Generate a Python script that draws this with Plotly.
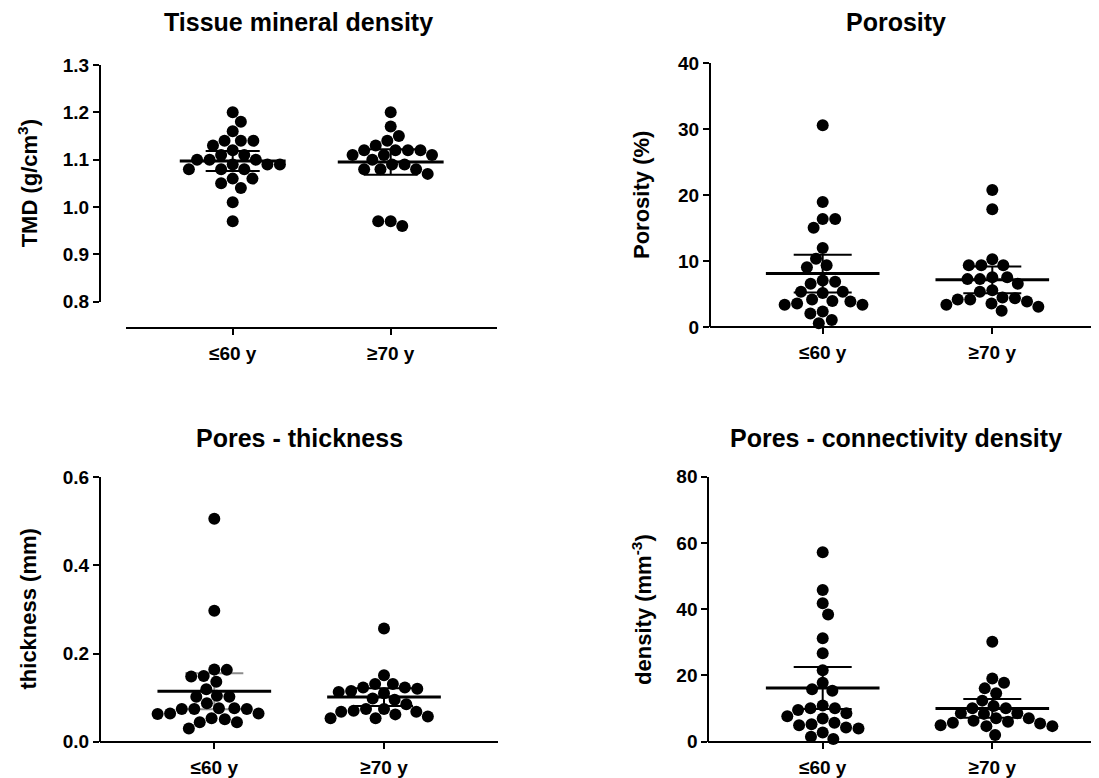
import numpy as np
import plotly.graph_objects as go

# ---------------- data ----------------
groups = ["≤60 y", "≥70 y"]

tmd_le60 = [1.20, 1.18, 1.16, 1.14, 1.14, 1.14, 1.13, 1.12, 1.11, 1.11, 1.10, 1.10, 1.10,
            1.09, 1.09, 1.09, 1.08, 1.08, 1.08, 1.06, 1.06, 1.05, 1.04, 1.01, 0.97]
tmd_ge70 = [1.20, 1.17, 1.15, 1.14, 1.13, 1.12, 1.12, 1.12, 1.12, 1.11, 1.11, 1.11, 1.10,
            1.09, 1.09, 1.08, 1.08, 1.08, 1.07, 0.97, 0.97, 0.96]

por_le60 = [30.6, 19.0, 16.4, 16.4, 15.1, 12.0, 10.4, 9.4, 9.1, 7.1, 6.9, 6.6, 5.4, 5.4, 5.2,
            4.2, 4.0, 3.9, 3.6, 3.4, 3.4, 2.4, 2.1, 1.1, 0.6]
por_ge70 = [20.8, 17.9, 10.3, 9.4, 9.4, 9.4, 7.6, 7.6, 7.3, 7.3, 6.6, 5.6, 5.4, 4.5, 4.4,
            4.2, 4.2, 3.9, 3.6, 3.4, 3.1, 2.5]

thk_le60 = [0.506, 0.297, 0.164, 0.163, 0.149, 0.148, 0.136, 0.119, 0.104, 0.102, 0.102,
            0.087, 0.076, 0.076, 0.074, 0.074, 0.074, 0.064, 0.064, 0.063, 0.053, 0.051,
            0.044, 0.044, 0.030]
thk_ge70 = [0.257, 0.151, 0.131, 0.131, 0.123, 0.123, 0.120, 0.115, 0.113, 0.110, 0.098,
            0.095, 0.085, 0.074, 0.074, 0.070, 0.068, 0.068, 0.062, 0.057, 0.053, 0.053]

den_le60 = [57.2, 45.8, 41.8, 38.4, 31.2, 26.7, 21.6, 17.8, 15.8, 15.4, 10.9, 10.1, 10.1,
            9.6, 8.6, 7.7, 7.0, 5.7, 5.3, 5.0, 4.3, 4.0, 2.8, 1.5, 0.8]
den_ge70 = [30.2, 19.1, 17.8, 16.1, 14.6, 12.4, 10.8, 10.1, 10.1, 8.6, 8.6, 8.4, 7.1, 7.1,
            6.3, 6.0, 5.7, 5.5, 5.0, 4.7, 4.7, 2.0]

titles = ["Tissue mineral density", "Porosity", "Pores - thickness",
          "Pores - connectivity density"]
ytitles = ["TMD (g/cm<sup>3</sup>)", "Porosity (%)", "thickness (mm)",
           "density (mm<sup>-3</sup>)"]
yticks = [[0.8, 0.9, 1.0, 1.1, 1.2, 1.3], [0, 10, 20, 30, 40],
          [0.0, 0.2, 0.4, 0.6], [0, 20, 40, 60, 80]]
ytickfmt = [".1f", "d", ".1f", "d"]
panel_data = [(tmd_le60, tmd_ge70), (por_le60, por_ge70),
              (thk_le60, thk_ge70), (den_le60, den_ge70)]

# ---------------- layout geometry (screen pixels) ----------------
SCREEN_W, SCREEN_H = 1099, 778
OFF = 8                       # default page body margin
W, H = SCREEN_W - OFF, SCREEN_H - OFF
geom = [
    dict(x0=126, x1=497, c0=232.7, c1=390.7, yx=100, ytop=65.0, ybot=301.7, xline=328.0),
    dict(x0=710, x1=1099, c0=822.7, c1=992.3, yx=710, ytop=63.3, ybot=327.3, xline=327.3),
    dict(x0=100, x1=498, c0=214.3, c1=384.0, yx=100, ytop=477.3, ybot=741.7, xline=741.7),
    dict(x0=708.3, x1=1099, c0=822.7, c1=992.3, yx=708.3, ytop=476.7, ybot=741.7, xline=741.7),
]
title_pos = [(298.5, 22), (896, 22), (299, 438), (896, 438)]
ytitle_x = [28, 641.7, 28, 641.7]


def px(x):
    return (x - OFF) / W


def py(y):
    return 1 - (y - OFF) / H


FONT = "Liberation Sans, Arial, sans-serif"
MARK = 12          # dot diameter
MEAN_HW = 0.335    # half width of mean line (category units)
CAP_HW = 0.171     # half width of CI caps


def t975(df):
    z = 1.959963985
    g1 = (z**3 + z) / 4
    g2 = (5 * z**5 + 16 * z**3 + 3 * z) / 96
    g3 = (3 * z**7 + 19 * z**5 + 17 * z**3 - 15 * z) / 384
    return z + g1 / df + g2 / df**2 + g3 / df**3


def swarm(vals, ppu_y, ppu_x, d=12.0):
    vals = np.asarray(vals, float)
    order = np.argsort(-vals, kind="stable")
    placed = []
    out = np.zeros(len(vals))
    flip = 1
    for i in order:
        y = vals[i] * ppu_y
        cands = [0.0]
        for (qx, qy) in placed:
            dy = abs(qy - y)
            if dy < d:
                dx = np.sqrt(d * d - dy * dy)
                cands += [qx + dx, qx - dx]
        ok = [c for c in cands
              if all((c - qx) ** 2 + (y - qy) ** 2 >= d * d - 1e-6 for qx, qy in placed)]
        best = min(abs(c) for c in ok)
        ties = sorted(set(round(c, 6) for c in ok if abs(abs(c) - best) < 1e-6))
        if len(ties) > 1:
            c = ties[-1] if flip > 0 else ties[0]
            flip = -flip
        else:
            c = ties[0]
        placed.append((c, y))
        out[i] = c / ppu_x
    return out


fig = go.Figure()
layout = dict(template="none", width=W, height=H, autosize=False,
              margin=dict(l=0, r=0, t=0, b=0, pad=0, autoexpand=False),
              paper_bgcolor="white", plot_bgcolor="white", showlegend=False,
              font=dict(family=FONT, color="black", size=19, weight="bold"))
annotations = []

for p, g in enumerate(geom):
    s = "" if p == 0 else str(p + 1)
    xname, yname = "x" + s, "y" + s
    ppu_x = g["c1"] - g["c0"]
    xr = [(g["x0"] - g["c0"]) / ppu_x, (g["x1"] - g["c0"]) / ppu_x]
    yr = [yticks[p][0], yticks[p][-1]]
    ppu_y = (g["ybot"] - g["ytop"]) / (yr[1] - yr[0])

    layout["xaxis" + s] = dict(
        domain=[px(g["x0"]), min(1.0, px(g["x1"]))], range=xr, anchor="free",
        automargin=False, position=py(g["xline"]), tickvals=[0, 1], ticktext=groups,
        ticks="outside", ticklen=6, tickwidth=2, tickcolor="black",
        showline=True, linewidth=2, linecolor="black", showgrid=False,
        zeroline=False, ticklabelstandoff=2,
        tickfont=dict(family=FONT, size=19, color="black", weight="bold"))
    layout["yaxis" + s] = dict(
        domain=[py(g["ybot"]), py(g["ytop"])], range=yr, anchor="free",
        automargin=False, position=px(g["yx"]), tickvals=yticks[p],
        tickformat=ytickfmt[p], ticks="outside", ticklen=6, tickwidth=2,
        tickcolor="black", showline=True, linewidth=2, linecolor="black",
        showgrid=False, zeroline=False,
        tickfont=dict(family=FONT, size=19, color="black", weight="bold"))

    for gi, vals in enumerate(panel_data[p]):
        v = np.asarray(vals, float)
        m = v.mean()
        h = t975(len(v) - 1) * v.std(ddof=1) / np.sqrt(len(v))
        ci_col = "#8c8c8c" if (p == 2 and gi == 0) else "black"
        fig.add_trace(go.Scatter(
            x=[gi - CAP_HW, gi + CAP_HW, None, gi, gi, None, gi - CAP_HW, gi + CAP_HW],
            y=[m + h, m + h, None, m + h, m - h, None, m - h, m - h],
            mode="lines", line=dict(color=ci_col, width=2), xaxis=xname, yaxis=yname,
            cliponaxis=False, hoverinfo="skip"))
        off = swarm(v, ppu_y, ppu_x, d=12.5)
        fig.add_trace(go.Scatter(
            x=gi + off, y=v, mode="markers",
            marker=dict(size=MARK, color="black", line=dict(width=0)),
            xaxis=xname, yaxis=yname, cliponaxis=False))
        fig.add_trace(go.Scatter(
            x=[gi - MEAN_HW, gi + MEAN_HW], y=[m, m], mode="lines",
            line=dict(color="black", width=3), xaxis=xname, yaxis=yname,
            cliponaxis=False, hoverinfo="skip"))

    tx, ty = title_pos[p]
    annotations.append(dict(
        text=titles[p], x=px(tx), y=py(ty), xref="paper", yref="paper",
        xanchor="center", yanchor="middle", showarrow=False,
        font=dict(family=FONT, size=25, color="black", weight="bold")))
    annotations.append(dict(
        text=ytitles[p], x=px(ytitle_x[p]), y=py((g["ytop"] + g["ybot"]) / 2),
        xref="paper", yref="paper", xanchor="center", yanchor="middle",
        textangle=-90, showarrow=False,
        font=dict(family=FONT, size=22, color="black", weight="bold")))

layout["annotations"] = annotations
fig.update_layout(**layout)
fig.write_html("out.html")
